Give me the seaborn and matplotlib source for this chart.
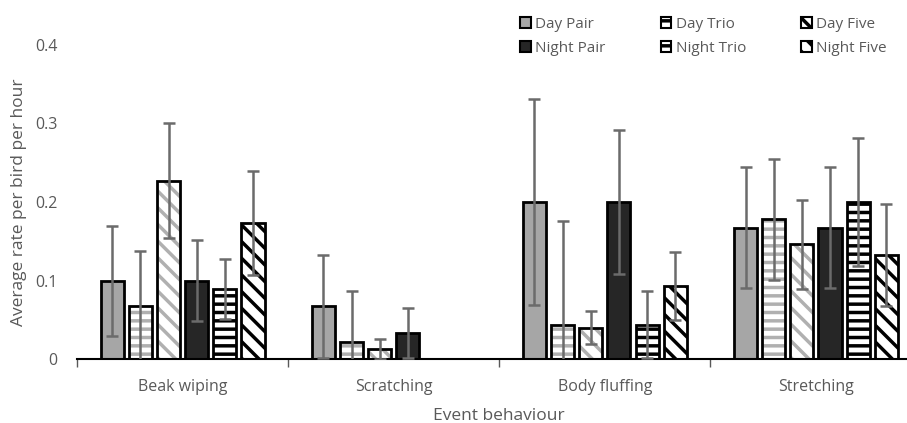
import numpy as np
import pandas as pd
import seaborn as sb
import matplotlib.pyplot as plt
from matplotlib.patches import Rectangle, Patch

behaviours = ['Beak wiping', 'Scratching', 'Body fluffing', 'Stretching']
groups = ['Day Pair', 'Day Trio', 'Day Five', 'Night Pair', 'Night Trio', 'Night Five']

# mean rate per group, one list per behaviour order
day_pair = [0.100, 0.067, 0.200, 0.167]
day_trio = [0.067, 0.022, 0.044, 0.178]
day_five = [0.227, 0.013, 0.040, 0.146]
night_pair = [0.100, 0.033, 0.200, 0.167]
night_trio = [0.089, 0.000, 0.044, 0.200]
night_five = [0.173, 0.000, 0.093, 0.133]

# error bar half widths
day_pair_err = [0.070, 0.065, 0.131, 0.077]
day_trio_err = [0.070, 0.065, 0.132, 0.077]
day_five_err = [0.073, 0.013, 0.021, 0.057]
night_pair_err = [0.052, 0.032, 0.092, 0.077]
night_trio_err = [0.038, 0.000, 0.043, 0.082]
night_five_err = [0.066, 0.000, 0.043, 0.065]

means = [day_pair, day_trio, day_five, night_pair, night_trio, night_five]
errs = [day_pair_err, day_trio_err, day_five_err, night_pair_err, night_trio_err, night_five_err]

rows = []
for g, vals in zip(groups, means):
    for b, v in zip(behaviours, vals):
        rows.append({'Behaviour': b, 'Group': g, 'Rate': v})
df = pd.DataFrame(rows)

# fill, hatch, hatch colour
styles = {
    'Day Pair': ('#a6a6a6', '', '#a6a6a6'),
    'Day Trio': ('white', '--', '#b0b0b0'),
    'Day Five': ('white', '\\\\', '#b0b0b0'),
    'Night Pair': ('#262626', '', '#262626'),
    'Night Trio': ('white', '--', 'black'),
    'Night Five': ('white', '\\\\', 'black'),
}

sb.set_style('white')
plt.rcParams['font.family'] = ['Open Sans', 'DejaVu Sans']
plt.rcParams['hatch.linewidth'] = 2.5

fig = plt.figure(figsize=(9.07, 4.23), dpi=100)
ax = fig.add_axes([0.085, 0.151, 0.931, 0.743])

sb.barplot(data=df, x='Behaviour', y='Rate', hue='Group', order=behaviours,
           hue_order=groups, width=0.8, gap=0.18, legend=False, ax=ax)

for g, cont, e in zip(groups, ax.containers, errs):
    fill, hatch, hcol = styles[g]
    xs, vals, ee = [], [], []
    for bar, err in zip(cont, e):
        bar.set_facecolor(fill)
        bar.set_hatch(hatch if bar.get_height() > 0 else '')
        bar.set_edgecolor(hcol)
        bar.set_linewidth(0)
        if bar.get_height() > 0:
            ax.add_patch(Rectangle((bar.get_x(), 0), bar.get_width(), bar.get_height(),
                                   fill=False, edgecolor='black', linewidth=2, zorder=3))
            xs.append(bar.get_x() + bar.get_width() / 2)
            vals.append(bar.get_height())
            ee.append(err)
    ax.errorbar(xs, vals, yerr=ee, fmt='none', ecolor='#6b6b6b', elinewidth=1.8,
                capsize=4, capthick=1.8, zorder=4)

ax.set_ylim(0, 0.4)
ax.set_xlim(-0.5, 3.5)
ax.set_yticks([0, 0.1, 0.2, 0.3, 0.4])
ax.set_yticklabels(['0', '0.1', '0.2', '0.3', '0.4'])
ax.set_xticks([-0.5, 0.5, 1.5, 2.5, 3.5], minor=True)
ax.tick_params(axis='x', which='major', length=0, labelsize=11.5, labelcolor='#595959', pad=14)
ax.tick_params(axis='x', which='minor', length=6, color='#595959', width=1, bottom=True)
ax.tick_params(axis='y', length=0, labelsize=11.5, labelcolor='#595959', pad=14)

for s in ['top', 'right', 'left']:
    ax.spines[s].set_visible(False)
ax.spines['bottom'].set_color('black')
ax.spines['bottom'].set_linewidth(1.5)

ax.set_xlabel('Event behaviour', fontsize=12.5, color='#595959', labelpad=10)
ax.set_ylabel('Average rate per bird per hour', fontsize=12.5, color='#595959', labelpad=6)

# legend fills column by column: pair, trio, five
leg_order = ['Day Pair', 'Night Pair', 'Day Trio', 'Night Trio', 'Day Five', 'Night Five']
handles = []
for g in leg_order:
    fill, hatch, hcol = styles[g]
    handles.append(Patch(facecolor=fill, hatch=hatch, edgecolor='black', linewidth=1.5))
fig.legend(handles, leg_order, ncol=3, loc='upper left', bbox_to_anchor=(0.558, 0.993),
           frameon=False, fontsize=11, labelcolor='#595959', handlelength=0.7,
           handleheight=0.7, handletextpad=0.3, columnspacing=3.6, labelspacing=0.6)

fig.savefig('out.png', dpi=100)
